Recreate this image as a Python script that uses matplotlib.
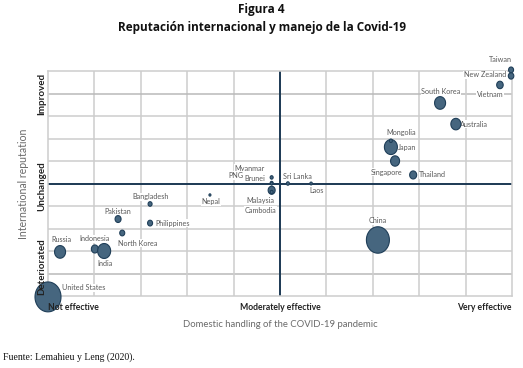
import numpy as np
import matplotlib
matplotlib.use('Agg')
import matplotlib.pyplot as plt
from matplotlib.path import Path

# domestic handling (0 = not effective, 10 = very effective), reputation (0..10)
countries = ['Taiwan', 'New Zealand', 'Vietnam', 'South Korea', 'Australia',
             'Japan', 'Mongolia', 'Singapore', 'Thailand', 'Sri Lanka', 'Laos',
             'Myanmar', 'Brunei', 'PNG', 'Malaysia', 'Cambodia', 'Nepal',
             'Bangladesh', 'Pakistan', 'Philippines', 'North Korea', 'Russia',
             'Indonesia', 'India', 'United States', 'China']
handling = [9.98, 9.98, 9.74, 8.45, 8.79,
            7.39, 7.39, 7.48, 7.87, 5.17, 5.67,
            4.82, 4.82, 4.82, 4.82, 4.82, 3.49,
            2.20, 1.51, 2.20, 1.60, 0.26,
            1.01, 1.21, 0.00, 7.11]
reputation = [10.05, 9.78, 9.38, 8.58, 7.64,
              6.62, 6.90, 6.00, 5.38, 5.00, 5.00,
              5.27, 5.02, 5.00, 4.70, 4.62, 4.49,
              4.09, 3.42, 3.24, 2.80, 1.96,
              2.09, 2.00, -0.04, 2.49]
# relative bubble size (diameter)
bubble = [5, 5.5, 6.5, 11, 10,
          13, 3, 9, 7, 3, 2.5,
          3, 3, 2.5, 7, 3, 2,
          4, 6, 5, 5, 11,
          7, 13, 26, 23]

# label offsets in pixels (dx, dy) and alignment
label_pos = {
    'Taiwan': (1, 10, 'right'), 'New Zealand': (-5, 1, 'right'),
    'Vietnam': (-10, -10, 'center'), 'South Korea': (1, 11, 'center'),
    'Australia': (4, 0, 'left'), 'Japan': (7, 0, 'left'),
    'Mongolia': (10, 8, 'center'), 'Singapore': (-8, -11, 'center'),
    'Thailand': (6, 0, 'left'), 'Sri Lanka': (10, 7, 'center'),
    'Laos': (5, -7, 'center'), 'Myanmar': (-7, 9, 'right'),
    'Brunei': (-6, 5, 'right'), 'PNG': (-28, 8, 'right'),
    'Malaysia': (-11, -10, 'center'), 'Cambodia': (-11, -18, 'center'),
    'Nepal': (1, -7, 'center'), 'Bangladesh': (0, 7, 'center'),
    'Pakistan': (0, 8, 'center'), 'Philippines': (5, 0, 'left'),
    'North Korea': (16, -10, 'center'), 'Russia': (1, 12, 'center'),
    'Indonesia': (0, 10, 'center'), 'India': (1, -12, 'center'),
    'United States': (14, 9, 'left'), 'China': (0, 19, 'center'),
}

W, H, DPI = 523, 368, 100
fig = plt.figure(figsize=(W / DPI, H / DPI), dpi=DPI)
plt.rcParams['font.family'] = ['Lato', 'DejaVu Sans']

ax = fig.add_axes([48 / W, 1 - 296 / H, (512 - 48) / W, (296 - 71) / H])
ax.set_xlim(0, 10)
ax.set_ylim(0, 10)

grid_c = '#cdcdcd'
for v in range(1, 10):
    lc = '#b9b9b9' if v in (1, 9) else grid_c
    ax.axhline(v, color=lc, lw=1.1, zorder=1)
    ax.axvline(v, color=grid_c, lw=1.1, zorder=1)
ax.axhline(5, color='#1c3954', lw=1.4, zorder=2)
ax.axvline(5, color='#1c3954', lw=1.4, zorder=2)
for s in ax.spines.values():
    s.set_color(grid_c)
    s.set_linewidth(1.1)

# slightly tall ellipse marker (the source image is stretched)
t = np.linspace(0, 2 * np.pi, 60)
ell = Path(np.column_stack([np.cos(t) / 1.15, np.sin(t)]), closed=True)
px2pt = 72 / DPI
sizes = [(b * 1.15 * px2pt) ** 2 for b in bubble]
ax.scatter(handling, reputation, s=sizes, marker=ell, c='#46667f',
           edgecolors='#1f3e58', linewidths=0.8, zorder=4, clip_on=False)

for name, x, y in zip(countries, handling, reputation):
    dx, dy, ha = label_pos[name]
    ax.annotate(name, (x, y), xytext=(dx * px2pt, dy * px2pt),
                textcoords='offset points', ha=ha, va='center',
                fontsize=5.2, color='#5a5a5a', zorder=3, annotation_clip=False,
                bbox=dict(facecolor='white', edgecolor='none', pad=0.4))

ax.set_xticks([0, 5, 10])
ax.set_xticklabels(['Not effective', 'Moderately effective', 'Very effective'],
                   fontsize=6.2, fontweight='bold', color='#222222')
for lab, ha in zip(ax.get_xticklabels(), ['left', 'center', 'right']):
    lab.set_ha(ha)
ax.set_yticks([1.3, 4.9, 9])
ax.set_yticklabels(['Deteriorated', 'Unchanged', 'Improved'], rotation=90,
                   va='center', fontsize=7, fontweight='bold', color='#222222')
ax.tick_params(length=0, pad=5)
ax.tick_params(axis='y', pad=1.5)
ax.xaxis.set_zorder(5)
ax.yaxis.set_zorder(5)

ax.set_xlabel('Domestic handling of the COVID-19 pandemic', fontsize=6.8,
              color='#6a6a6a', labelpad=6)
ax.set_ylabel('International reputation', fontsize=7.6, color='#6a6a6a',
              labelpad=6)

fig.text(0.5, 1 - 10 / H, 'Figura 4', ha='center', va='center',
         fontsize=8.5, fontweight='bold', color='#111111', family=['Open Sans', 'DejaVu Sans'])
fig.text(0.5, 1 - 27 / H, 'Reputación internacional y manejo de la Covid-19',
         ha='center', va='center', fontsize=8.5, fontweight='bold',
         color='#111111', family=['Open Sans', 'DejaVu Sans'])
fig.text(3 / W, 1 - 357 / H, 'Fuente: Lemahieu y Leng (2020).', ha='left',
         va='center', fontsize=7, color='#111111', family=['Liberation Serif'])

fig.savefig('out.png', dpi=DPI)
